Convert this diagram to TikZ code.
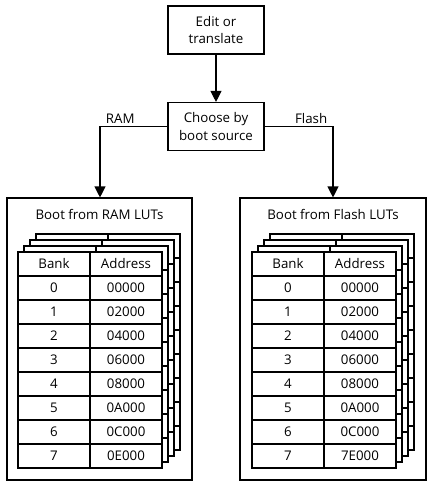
\documentclass[tikz,border=0pt]{standalone}
\usepackage{fontspec}
\setmainfont{Open Sans}
\usetikzlibrary{arrows.meta}
\begin{document}
\begin{tikzpicture}[x=1pt,y=-1pt, font=\fontsize{13.3}{17.5}\selectfont,
  line width=1.1pt,
  box/.style={draw, fill=white, minimum width=96pt, minimum height=48pt, align=center, inner sep=0pt},
  frame/.style={draw, minimum height=282pt, inner sep=0pt},
  cell/.style={draw, fill=white, minimum width=72pt, minimum height=24pt, inner sep=0pt},
  sheet/.style={draw, fill=white},
  arr/.style={-{Triangle[width=11pt,length=11pt]}},
  lbl/.style={above=1pt, inner sep=1pt}]
\useasboundingbox (0,0) rectangle (432,486);
\node[box] (edit) at (216,30) {Edit or\\translate};
\node[box] (choose) at (216,126.5) {Choose by\\boot source};
\node[frame, minimum width=185pt] (ram) at (99.5,339) {};
\node[frame, minimum width=186pt] (flash) at (333,339) {};
\node (ramt) at (99.5,214) {Boot from RAM LUTs};
\node (flasht) at (333,214) {Boot from Flash LUTs};
% stacked back sheets
\foreach \ox/\pre in {18/r, 252/f}{
  \foreach \k in {3,2,1}{
    \begin{scope}[shift={(6*\k,-6*\k)}]
      \draw[sheet] (\ox,252) rectangle ++(144,216);
      \draw (\ox+72,252) -- ++(0,216);
      \foreach \i in {1,...,8} \draw (\ox,252+24*\i) -- ++(144,0);
    \end{scope}
  }
  \node[cell] (\pre hb) at (\ox+36,264) {Bank};
  \node[cell] (\pre ha) at (\ox+108,264) {Address};
}
\foreach \i/\a in {0/00000,1/02000,2/04000,3/06000,4/08000,5/0A000,6/0C000,7/0E000}{
  \node[cell] (rb\i) at (54,288+24*\i) {\i};
  \node[cell] (ra\i) at (126,288+24*\i) {\a};
}
\foreach \i/\a in {0/00000,1/02000,2/04000,3/06000,4/08000,5/0A000,6/0C000,7/7E000}{
  \node[cell] (fb\i) at (288,288+24*\i) {\i};
  \node[cell] (fa\i) at (360,288+24*\i) {\a};
}
\draw[arr] (edit) -- (choose);
\draw[arr] (choose.west) -| node[lbl, pos=0.35] {RAM} ([xshift=0.5pt]ram.north);
\draw[arr] (choose.east) -| node[lbl, pos=0.34] {Flash} (flash.north);
\end{tikzpicture}
\end{document}
